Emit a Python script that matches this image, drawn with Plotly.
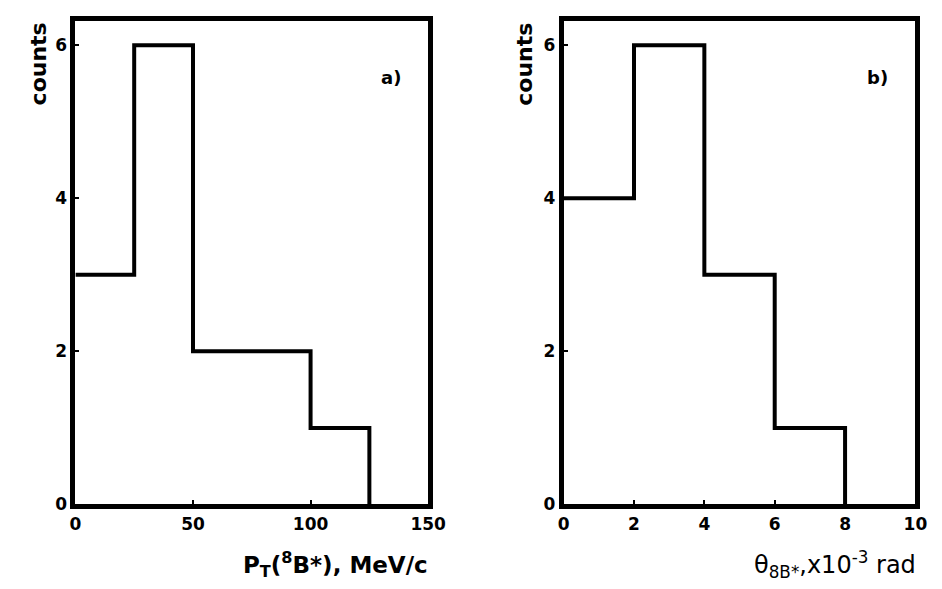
import plotly.graph_objects as go

# Panel a) transverse momentum histogram
pt_edges = [0, 25, 50, 75, 100, 125]
pt_counts = [3, 6, 2, 2, 1]
# Panel b) angle histogram
th_edges = [0, 2, 4, 6, 8]
th_counts = [4, 6, 3, 1]

y_ticks = [0, 2, 4, 6]
xa_ticks = [0, 50, 100, 150]
xb_ticks = [0, 2, 4, 6, 8, 10]

W, H = 942, 589
FONT = "DejaVu Sans, Liberation Sans, Arial, sans-serif"

def px(x):
    return x / W

def py(y):
    return 1 - y / H

fig = go.Figure()

fig.add_trace(go.Scatter(x=pt_edges, y=pt_counts + [0], mode="lines", line_shape="hv",
                         line=dict(color="black", width=4), xaxis="x", yaxis="y",
                         showlegend=False, hoverinfo="skip", cliponaxis=False))
fig.add_trace(go.Scatter(x=th_edges, y=th_counts + [0], mode="lines", line_shape="hv",
                         line=dict(color="black", width=4), xaxis="x2", yaxis="y2",
                         showlegend=False, hoverinfo="skip", cliponaxis=False))

ydom = [py(505), py(13)]
axis_common = dict(showgrid=False, zeroline=False, showline=True, linecolor="black",
                   linewidth=5, mirror=True, ticks="inside", ticklen=4, tickwidth=2,
                   tickcolor="black",
                   tickfont=dict(family=FONT, size=17, color="black", weight="bold"))

fig.update_layout(
    width=W, height=H, margin=dict(l=0, r=0, t=0, b=0),
    paper_bgcolor="white", plot_bgcolor="white",
    xaxis=dict(domain=[px(63), px(425)], range=[0, 150], tickvals=xa_ticks,
               anchor="y", **axis_common),
    yaxis=dict(domain=ydom, range=[0, 6.32], tickvals=y_ticks, anchor="x", **axis_common),
    xaxis2=dict(domain=[px(564), px(925)], range=[0, 10], tickvals=xb_ticks,
                anchor="y2", **axis_common),
    yaxis2=dict(domain=ydom, range=[0, 6.32], tickvals=y_ticks, anchor="x2", **axis_common),
)

ann = []
tf = dict(family=FONT, size=22, color="black", weight="bold")
ann.append(dict(text="counts", x=px(25), y=py(57), xref="paper", yref="paper",
                textangle=-90, showarrow=False, font=tf, xanchor="center", yanchor="middle"))
ann.append(dict(text="counts", x=px(523), y=py(57), xref="paper", yref="paper",
                textangle=-90, showarrow=False, font=tf, xanchor="center", yanchor="middle"))
ann.append(dict(text="P<sub>T</sub>(<sup>8</sup>B*), MeV/c", x=px(427), y=py(566),
                xref="paper", yref="paper", showarrow=False,
                font=dict(family=FONT, size=23, color="black", weight="bold"),
                xanchor="right", yanchor="middle"))
ann.append(dict(text="θ<sub>8B*</sub>,x10<sup>-3</sup> rad", x=px(928), y=py(566),
                xref="paper", yref="paper", showarrow=False,
                font=dict(family=FONT, size=24, color="black"),
                xanchor="right", yanchor="middle"))
ann.append(dict(text="a)", x=px(387), y=py(71), xref="paper", yref="paper",
                showarrow=False, font=dict(family=FONT, size=18, color="black", weight="bold"),
                xanchor="center", yanchor="middle"))
ann.append(dict(text="b)", x=px(886), y=py(71), xref="paper", yref="paper",
                showarrow=False, font=dict(family=FONT, size=18, color="black", weight="bold"),
                xanchor="center", yanchor="middle"))
fig.update_layout(annotations=ann)

fig.write_html("out.html")
